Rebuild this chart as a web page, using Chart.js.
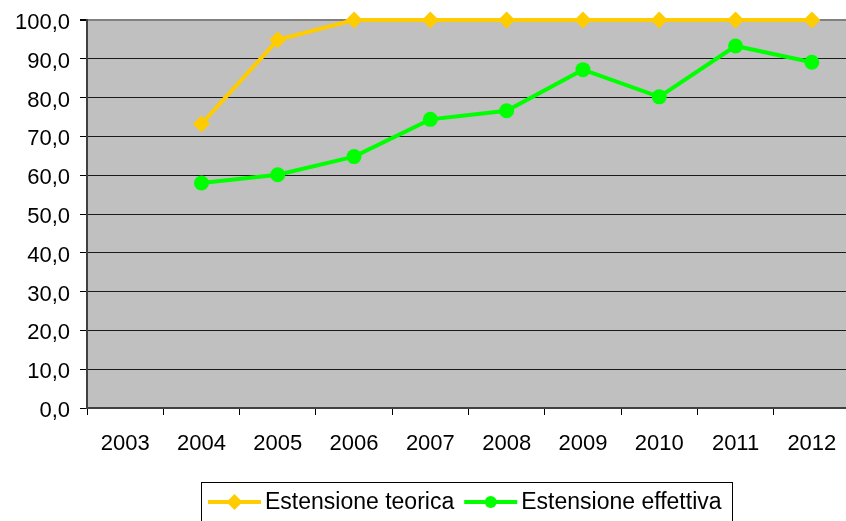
<!DOCTYPE html>
<html>
<head>
<meta charset="utf-8">
<script src="https://cdn.jsdelivr.net/npm/chart.js@4.4.1/dist/chart.umd.min.js"></script>
<style>
  html, body { margin: 0; padding: 0; background: #fff; overflow: hidden; }
  #wrap { width: 850px; height: 521px; }
</style>
</head>
<body>
<div id="wrap"><canvas id="myChart" width="850" height="521"></canvas></div>
<script>
const years = ['2003', '2004', '2005', '2006', '2007', '2008', '2009', '2010', '2011', '2012']
const teorica = [null, 73.2, 94.9, 100, 100, 100, 100, 100, 100, 100]
const effettiva = [null, 58.0, 60.1, 64.8, 74.4, 76.6, 87.2, 80.2, 93.3, 89.1]
const seriesNames = ['Estensione teorica', 'Estensione effettiva']

const FONT = "'Liberation Sans', Arial, sans-serif"
const fmt = (v) => v.toFixed(1).replace('.', ',')

// grey plot background
const plotBg = {
  id: 'plotBg',
  beforeDraw(chart) {
    const { ctx, chartArea: a } = chart
    ctx.save()
    ctx.fillStyle = '#C0C0C0'
    ctx.fillRect(a.left, a.top, a.right - a.left, a.bottom - a.top)
    ctx.restore()
  }
}

// excel-like legend: line + marker, framed box below the plot
const boxLegend = {
  id: 'boxLegend',
  afterDraw(chart) {
    const { ctx } = chart
    ctx.save()
    ctx.font = '23px ' + FONT
    const lineLen = 53, gap = 4, itemGap = 10, pad = 7
    const markerR = [8, 6]
    const items = chart.data.datasets.map((ds) => ({ ds, w: ctx.measureText(ds.label).width }))
    let total = pad + 10
    items.forEach((it, i) => { total += lineLen + gap + it.w + (i ? itemGap : 0) })
    let x = 201
    const top = 482, cy = 502
    ctx.strokeStyle = '#000'
    ctx.lineWidth = 1
    ctx.strokeRect(x + 0.5, top + 0.5, Math.round(total), 60)
    x += pad
    items.forEach((it, i) => {
      if (i) x += itemGap
      const ds = it.ds
      ctx.strokeStyle = ds.borderColor
      ctx.lineWidth = 4
      ctx.beginPath()
      ctx.moveTo(x, cy)
      ctx.lineTo(x + lineLen, cy)
      ctx.stroke()
      ctx.fillStyle = ds.pointBackgroundColor
      ctx.beginPath()
      const mx = x + lineLen / 2, r = markerR[i]
      if (ds.pointStyle === 'rectRot') {
        ctx.moveTo(mx, cy - r)
        ctx.lineTo(mx + r, cy)
        ctx.lineTo(mx, cy + r)
        ctx.lineTo(mx - r, cy)
      } else {
        ctx.arc(mx, cy, r, 0, Math.PI * 2)
      }
      ctx.fill()
      x += lineLen + gap
      ctx.fillStyle = '#000'
      ctx.textBaseline = 'middle'
      ctx.fillText(ds.label, x, cy + 1)
      x += it.w
    })
    ctx.restore()
  }
}

const ctx = document.getElementById('myChart')
const chart = new Chart(ctx, {
  type: 'line',
  data: {
    labels: years,
    datasets: [
      {
        label: seriesNames[0],
        data: teorica,
        borderColor: '#FFCC00',
        backgroundColor: '#FFCC00',
        pointBackgroundColor: '#FFCC00',
        pointBorderWidth: 0,
        borderWidth: 4,
        pointStyle: 'rectRot',
        pointRadius: 8.5,
        tension: 0,
        clip: false
      },
      {
        label: seriesNames[1],
        data: effettiva,
        borderColor: '#00FF00',
        backgroundColor: '#00FF00',
        pointBackgroundColor: '#00FF00',
        pointBorderWidth: 0,
        borderWidth: 4,
        pointStyle: 'circle',
        pointRadius: 7.5,
        tension: 0,
        clip: false
      }
    ]
  },
  options: {
    responsive: false,
    animation: false,
    layout: { autoPadding: false, padding: { top: 20, left: 0, right: 0, bottom: 0 } },
    plugins: {
      legend: { display: false },
      tooltip: { enabled: false }
    },
    scales: {
      x: {
        offset: true,
        grid: {
          offset: true,
          drawOnChartArea: false,
          tickLength: 7,
          tickColor: '#000',
          tickWidth: 1
        },
        border: { color: '#404040', width: 2 },
        ticks: {
          color: '#000',
          padding: 16,
          maxRotation: 0,
          font: { family: FONT, size: 22 }
        },
        afterFit(scale) {
          scale.height = 113
          scale.paddingLeft = 0
          scale.paddingRight = 0
        }
      },
      y: {
        min: 0,
        max: 100,
        grid: {
          color: (c) => c.tick && c.tick.value === 100 ? '#808080' : '#1a1a1a',
          lineWidth: (c) => c.tick && c.tick.value === 100 ? 2 : 1,
          tickLength: 7,
          tickColor: '#000'
        },
        border: { color: '#404040', width: 2 },
        ticks: {
          stepSize: 10,
          color: '#000',
          padding: 10,
          labelOffset: 3,
          font: { family: FONT, size: 22 },
          callback: (v) => fmt(v)
        },
        afterFit(scale) {
          scale.width = 87
          scale.paddingTop = 0
          scale.paddingBottom = 0
        }
      }
    }
  },
  plugins: [plotBg, boxLegend]
})
</script>
</body>
</html>
